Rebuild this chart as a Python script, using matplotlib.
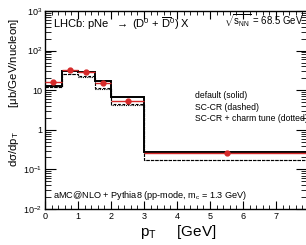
import matplotlib
matplotlib.use("Agg")
import matplotlib.pyplot as plt
import numpy as np
from matplotlib.ticker import LogLocator, MultipleLocator, NullFormatter, FixedLocator

plt.rcParams['font.family'] = ['Liberation Sans', 'DejaVu Sans']
plt.rcParams['mathtext.fontset'] = 'custom'
plt.rcParams['mathtext.rm'] = 'Liberation Sans'
plt.rcParams['mathtext.it'] = 'Liberation Sans'
plt.rcParams['mathtext.bf'] = 'Liberation Sans:bold'

# Data
bin_edges = [0, 0.5, 1.0, 1.5, 2.0, 3.0, 8.0]
default_solid = [13.0, 30.5, 28.0, 17.5, 6.6, 0.27]
sccr_dashed = [12.4, 26.0, 23.0, 11.5, 4.4, 0.175]
sccr_charm_dotted = [12.0, 25.0, 22.0, 11.0, 4.2, 0.168]
data_x = [0.25, 0.75, 1.25, 1.75, 2.5, 5.5]
data_xerr = [0.25, 0.25, 0.25, 0.25, 0.5, 2.5]
data_y = [16.5, 33.0, 28.5, 15.0, 5.2, 0.26]

W, H = 306, 245
fig = plt.figure(figsize=(W / 100, H / 100), dpi=100)
xmax = 7.95
x0, x1 = 45, 45 + xmax * 33
y0, y1 = 11, 209
ax = fig.add_axes([x0 / W, 1 - y1 / H, (x1 - x0) / W, (y1 - y0) / H])

def step(vals, **kw):
    ax.stairs(vals, bin_edges, baseline=None, **kw)

step(sccr_charm_dotted, color='black', lw=0.8, linestyle=(0, (1, 1)))
step(sccr_dashed, color='black', lw=0.8, linestyle=(0, (2.5, 1.5)))
step(default_solid, color='black', lw=1.4)
ax.errorbar(data_x, data_y, xerr=data_xerr, fmt='o', color='#d62a2a',
            ms=3.5, elinewidth=1.0, capsize=0, zorder=5)

ax.set_yscale('log')
ax.set_xlim(0, xmax)
ax.set_ylim(1e-2, 1e3)
ax.yaxis.set_major_locator(FixedLocator([1e-2, 1e-1, 1, 10, 1e2, 1e3]))
ax.yaxis.set_minor_locator(LogLocator(base=10, subs=np.arange(2, 10) * 1.0, numticks=20))
ax.yaxis.set_minor_formatter(NullFormatter())
ax.set_yticklabels([r'$10^{-2}$', r'$10^{-1}$', '1', '10', r'$10^{2}$', r'$10^{3}$'])
ax.xaxis.set_major_locator(MultipleLocator(1))
ax.xaxis.set_minor_locator(MultipleLocator(0.2))
ax.tick_params(which='both', direction='in', top=True, right=True, labelsize=6.5, pad=2)
ax.tick_params(axis='x', which='major', length=6)
ax.tick_params(axis='x', which='minor', length=3)
ax.tick_params(axis='y', which='major', length=8)
ax.tick_params(axis='y', which='minor', length=4)
for s in ax.spines.values():
    s.set_linewidth(1.0)

fig.text(53 / W, 1 - 24 / H, r'LHCb: pNe  $\rightarrow$ (D$^{0}$ + $\overline{\mathrm{D}}^{0}$) X',
         fontsize=8, ha='left', va='center')
fig.text(224 / W, 1 - 21 / H, r'$\sqrt{\mathrm{s}_{\mathrm{NN}}}$ = 68.5 GeV',
         fontsize=6.9, ha='left', va='center')
fig.text(195 / W, 1 - 95 / H, 'default (solid)', fontsize=6.2, ha='left', va='center')
fig.text(195 / W, 1 - 107 / H, 'SC-CR (dashed)', fontsize=6.2, ha='left', va='center')
fig.text(195 / W, 1 - 118 / H, 'SC-CR + charm tune (dotted)', fontsize=6.2, ha='left', va='center')
fig.text(53 / W, 1 - 195 / H, r'aMC@NLO + Pythia8 (pp-mode, m$_{\mathrm{c}}$ = 1.3 GeV)',
         fontsize=6.6, ha='left', va='center')
fig.text(140 / W, 1 - 232 / H, r'p$_{\mathrm{T}}$     [GeV]', fontsize=11, ha='left', va='center')
fig.text(14 / W, 1 - 18 / H, r'd$\sigma$/dp$_{\mathrm{T}}$        [$\mu$b/GeV/nucleon]',
         fontsize=8.2, rotation=90, ha='center', va='top')

fig.savefig('out.png', dpi=100)
